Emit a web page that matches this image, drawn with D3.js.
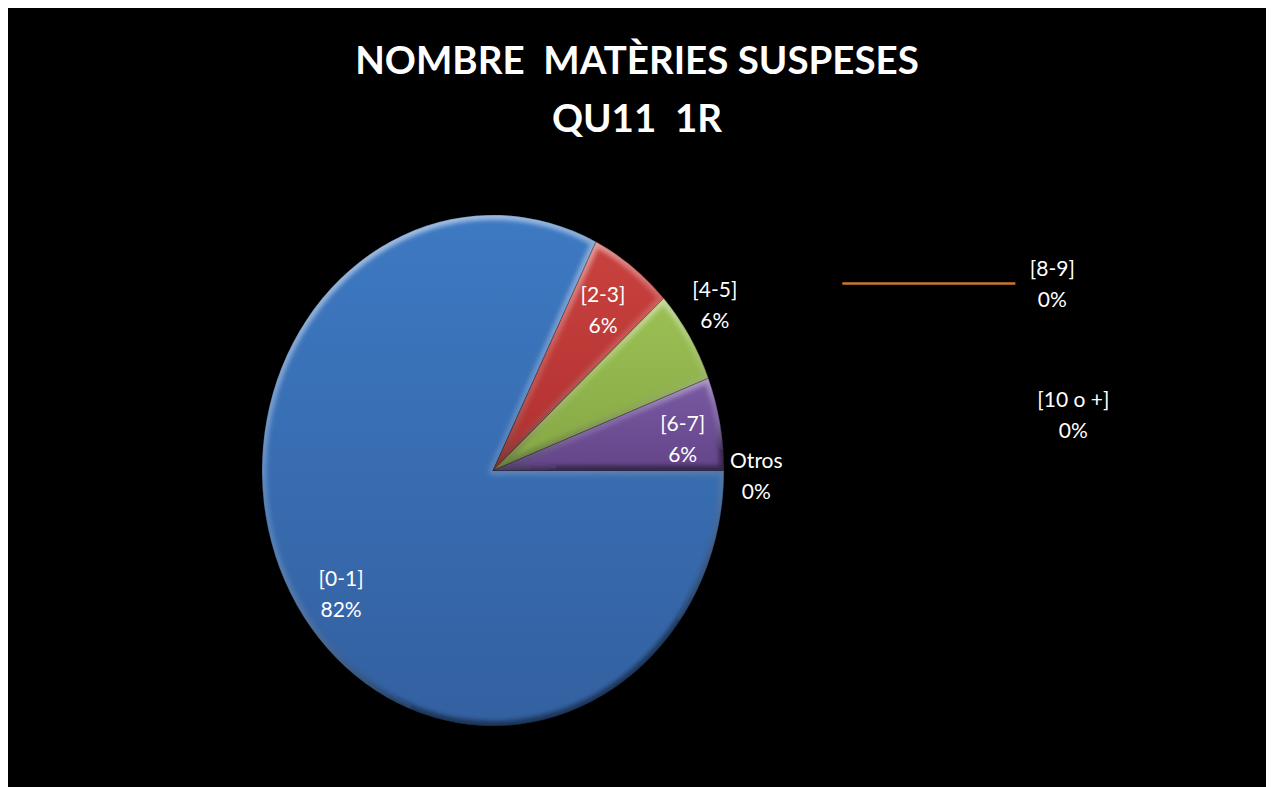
<!DOCTYPE html>
<html>
<head>
<meta charset="utf-8">
<script src="https://cdnjs.cloudflare.com/ajax/libs/d3/7.8.5/d3.min.js"></script>
<style>
  html, body { margin: 0; padding: 0; background: #fff; }
  svg { display: block; }
</style>
</head>
<body>
<div id="container"></div>
<script>
// data
var categories = ["[0-1]", "[2-3]", "[4-5]", "[6-7]", "Otros", "[8-9]", "[10 o +]"];
var counts = [14, 1, 1, 1, 0, 0, 0];
var titleLines = ["NOMBRE  MATÈRIES SUSPESES", "QU11  1R"];

// label layout (radius factor along slice middle, then pixel nudge)
var labelR  = [0.85, 0.79, 1.15, 0.80, 1.14, 1.14, 1.14];
var labelDx = [15, 0, -4, 8, 0, 296, 317];
var labelDy = [9, 1, -11, 6, 5, -187, -56];

var colors = {
  "[0-1]": ["#3d79c2", "#3360a0"],
  "[2-3]": ["#c9423f", "#b0302f"],
  "[4-5]": ["#9cc055", "#86a744"],
  "[6-7]": ["#7a59a3", "#634589"],
  "Otros": ["#4bacc6", "#3a8ea6"],
  "[8-9]": ["#e0802e", "#c56a1e"],
  "[10 o +]": ["#3d79c2", "#3360a0"]
};

var w = 1272, h = 787;
var cx = 493, cy = 470.5, rx = 231, ry = 255.5;

var svg = d3.select("#container").append("svg")
  .attr("width", w).attr("height", h);

svg.append("rect").attr("x", 8).attr("y", 8)
  .attr("width", 1258).attr("height", h - 8).attr("fill", "#000");

var defs = svg.append("defs");
defs.append("filter").attr("id", "soft")
  .attr("x", "-20%").attr("y", "-20%").attr("width", "140%").attr("height", "140%")
  .append("feGaussianBlur").attr("stdDeviation", 2.2);

var edgeGrad = defs.append("linearGradient").attr("id", "edge")
  .attr("x1", 0).attr("y1", 0).attr("x2", 0.3).attr("y2", 1);
edgeGrad.append("stop").attr("offset", "0%").attr("stop-color", "#fff").attr("stop-opacity", 0.6);
edgeGrad.append("stop").attr("offset", "55%").attr("stop-color", "#fff").attr("stop-opacity", 0.15);
edgeGrad.append("stop").attr("offset", "100%").attr("stop-color", "#000").attr("stop-opacity", 0.45);

categories.forEach(function(c, i) {
  var g = defs.append("linearGradient").attr("id", "fill" + i)
    .attr("x1", 0).attr("y1", 0).attr("x2", 0).attr("y2", 1);
  g.append("stop").attr("offset", "0%").attr("stop-color", colors[c][0]);
  g.append("stop").attr("offset", "100%").attr("stop-color", colors[c][1]);
});

// title
svg.append("g").selectAll("text")
  .data(titleLines).enter().append("text")
  .attr("x", 637)
  .attr("y", function(d, i) { return 74 + i * 58; })
  .attr("text-anchor", "middle")
  .attr("fill", "#fff")
  .style("white-space", "pre")
  .style("font-family", "Lato, 'Open Sans', sans-serif")
  .style("font-weight", "bold")
  .style("font-size", "38.5px")
  .text(function(d) { return d; });

// pie (start at 3 o'clock, clockwise)
var pie = d3.pie().sort(null).value(function(d) { return d; })
  .startAngle(Math.PI / 2).endAngle(Math.PI / 2 + 2 * Math.PI);
var arcs = pie(counts);
var arc = d3.arc().innerRadius(0).outerRadius(ry);

var pieG = svg.append("g")
  .attr("transform", "translate(" + cx + "," + cy + ") scale(" + (rx / ry) + ",1)");

var slices = pieG.selectAll("g.slice")
  .data(arcs.filter(function(d) { return d.value > 0; }))
  .enter().append("g").attr("class", "slice");

slices.append("clipPath")
  .attr("id", function(d) { return "clip" + d.index; })
  .append("path").attr("d", arc);

slices.append("path")
  .attr("d", arc)
  .attr("fill", function(d) { return "url(#fill" + d.index + ")"; });

// bevel-ish edge shading
slices.append("path")
  .attr("d", arc)
  .attr("fill", "none")
  .attr("stroke", "url(#edge)")
  .attr("stroke-width", 10)
  .attr("stroke-linejoin", "round")
  .attr("filter", "url(#soft)")
  .attr("clip-path", function(d) { return "url(#clip" + d.index + ")"; });

slices.append("path")
  .attr("d", arc)
  .attr("fill", "none")
  .attr("stroke", "#000")
  .attr("stroke-opacity", 0.25)
  .attr("stroke-width", 1);

// labels
var total = d3.sum(counts);
function labelPos(d) {
  var a = (d.startAngle + d.endAngle) / 2;
  var r = labelR[d.index];
  return [cx + rx * r * Math.sin(a) + labelDx[d.index],
          cy - ry * r * Math.cos(a) + labelDy[d.index]];
}

// leader line for [8-9]
var i89 = categories.indexOf("[8-9]");
var p89 = labelPos(arcs[i89]);
svg.append("line")
  .attr("x1", p89[0] - 210).attr("x2", p89[0] - 37)
  .attr("y1", p89[1]).attr("y2", p89[1])
  .attr("stroke", "#c8772f").attr("stroke-width", 2.5);

var labels = svg.append("g").selectAll("text")
  .data(arcs).enter().append("text")
  .attr("text-anchor", "middle")
  .attr("fill", "#fff")
  .style("font-family", "Lato, 'Open Sans', sans-serif")
  .style("font-size", "21px");

labels.append("tspan")
  .attr("x", function(d) { return labelPos(d)[0]; })
  .attr("y", function(d) { return labelPos(d)[1] - 8; })
  .text(function(d) { return categories[d.index]; });

labels.append("tspan")
  .attr("x", function(d) { return labelPos(d)[0]; })
  .attr("y", function(d) { return labelPos(d)[1] + 23; })
  .text(function(d) { return Math.round(d.value / total * 100) + "%"; });
</script>
</body>
</html>
